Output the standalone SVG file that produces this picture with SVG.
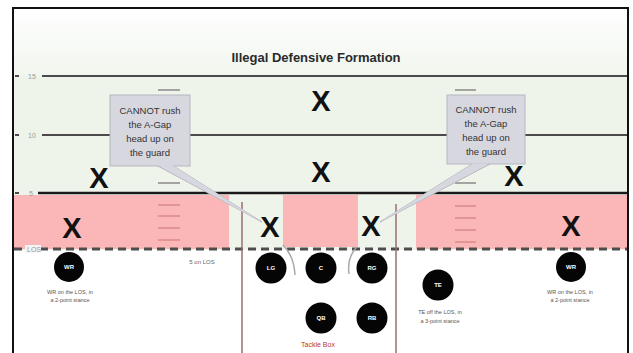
<svg xmlns="http://www.w3.org/2000/svg" width="633" height="353" viewBox="0 0 633 353">
<defs>
<linearGradient id="topbg" x1="0" y1="0" x2="0" y2="1">
<stop offset="0" stop-color="#ffffff"/>
<stop offset="1" stop-color="#f1f6ee"/>
</linearGradient>
<style>
.yl{stroke:#4a4a4a;stroke-width:2}
.lbl{font-family:"Liberation Sans",Arial,sans-serif;font-size:7px;fill:#9a9a9a}
.x{font-family:"Liberation Sans",Arial,sans-serif;font-size:29px;font-weight:bold;fill:#111;text-anchor:middle}
.pink{fill:#fbb7b7}
.gd{stroke:#8a8a8a;stroke-width:1.5}
.pd{stroke:#d98a8a;stroke-width:1.5}
.call{fill:#d7d8df;stroke:#b4b6c0;stroke-width:1}
.ct{font-family:"Liberation Sans",Arial,sans-serif;font-size:9.5px;fill:#333;text-anchor:middle}
.pl{fill:#050505}
.pt{font-family:"Liberation Sans",Arial,sans-serif;font-size:6px;font-weight:bold;fill:#fff;text-anchor:middle}
.note{font-family:"Liberation Sans",Arial,sans-serif;font-size:5.5px;fill:#555;text-anchor:middle}
.tb{stroke:#9b6e6e;stroke-width:1.5}
.arc{fill:none;stroke:#a8a8a8;stroke-width:1.5}
</style>
</defs>
<rect x="0" y="0" width="633" height="353" fill="#fff"/>
<rect x="13" y="8" width="615" height="67" fill="url(#topbg)"/>
<rect x="13" y="75" width="615" height="175" fill="#eef4ea"/>
<rect class="pink" x="14" y="195" width="215" height="54"/>
<rect class="pink" x="283" y="195" width="75" height="52"/>
<rect class="pink" x="416" y="195" width="212" height="54"/>
<text x="316" y="62" font-family="'Liberation Sans',Arial,sans-serif" font-size="13" font-weight="bold" fill="#2a2a2a" text-anchor="middle">Illegal Defensive Formation</text>
<g id="yard-lines">
<line x1="15" y1="76" x2="19" y2="76" class="yl" stroke-width="1"/>
<text class="lbl" x="28" y="79">15</text>
<line class="yl" x1="42" y1="76" x2="628" y2="76"/>
<line x1="15" y1="135" x2="19" y2="135" class="yl" stroke-width="1"/>
<text class="lbl" x="28" y="138">10</text>
<line class="yl" x1="42" y1="135" x2="628" y2="135"/>
<line x1="15" y1="193" x2="19" y2="193" class="yl" stroke-width="1"/>
<text class="lbl" x="29" y="196">5</text>
<line x1="38" y1="193" x2="628" y2="193" stroke="#1a1a1a" stroke-width="2.5"/>
<line x1="14" y1="249" x2="628" y2="249" stroke="#4d4d4d" stroke-width="3" stroke-dasharray="8,5"/>
<rect x="25" y="245" width="16" height="8" fill="#f4f4f4"/>
<text class="lbl" x="27" y="251.5" font-size="6">LOS</text>
</g>
<g id="hash-left">
<line class="gd" x1="158" y1="90" x2="180" y2="90"/>
<line class="gd" x1="158" y1="183" x2="180" y2="183"/>
<line class="pd" x1="158" y1="205" x2="180" y2="205"/>
<line class="pd" x1="158" y1="216" x2="180" y2="216"/>
<line class="pd" x1="158" y1="228" x2="180" y2="228"/>
<line class="pd" x1="158" y1="240" x2="180" y2="240"/>
</g>
<g id="hash-right">
<line class="gd" x1="455" y1="90" x2="476" y2="90"/>
<line class="gd" x1="455" y1="183" x2="476" y2="183"/>
<line class="pd" x1="455" y1="206" x2="476" y2="206"/>
<line class="pd" x1="455" y1="218" x2="476" y2="218"/>
<line class="pd" x1="455" y1="230" x2="476" y2="230"/>
<line class="pd" x1="455" y1="242" x2="476" y2="242"/>
</g>
<g id="tackle-box">
<line class="tb" x1="242" y1="202" x2="242" y2="353"/>
<line class="tb" x1="396" y1="204" x2="396" y2="353"/>
<text x="318" y="347" font-family="'Liberation Sans',Arial,sans-serif" font-size="7" fill="#c0392b" text-anchor="middle">Tackle Box</text>
</g>
<g id="defenders">
<text class="x" x="321" y="111">X</text>
<text class="x" x="321" y="182">X</text>
<text class="x" x="99" y="188">X</text>
<text class="x" x="514" y="186">X</text>
<text class="x" x="72" y="238">X</text>
<text class="x" x="270" y="237">X</text>
<text class="x" x="371" y="236">X</text>
<text class="x" x="571" y="236">X</text>
</g>
<g id="connectors">
<path class="arc" d="M283 245 Q294 256 295 275"/>
<path class="arc" d="M356 248 Q347 258 349 274"/>
</g>
<g id="callout-left">
<polygon class="call" points="156,165 172,165 262,222"/>
<rect class="call" x="110" y="95" width="80" height="71"/>
<polygon points="157,164.5 171,164.5 262,222" fill="#d7d8df"/>
<text class="ct" x="150" y="114">CANNOT rush</text>
<text class="ct" x="150" y="128">the A-Gap</text>
<text class="ct" x="150" y="142">head up on</text>
<text class="ct" x="150" y="156">the guard</text>
</g>
<g id="callout-right">
<polygon class="call" points="472,164 490,164 380,222"/>
<rect class="call" x="447" y="95" width="78" height="69"/>
<polygon points="473,163.5 489,163.5 380,222" fill="#d7d8df"/>
<text class="ct" x="486" y="113">CANNOT rush</text>
<text class="ct" x="486" y="127">the A-Gap</text>
<text class="ct" x="486" y="141">head up on</text>
<text class="ct" x="486" y="155">the guard</text>
</g>
<g id="wr-left">
<circle class="pl" cx="69" cy="267" r="15"/>
<text class="pt" x="69" y="269">WR</text>
<text class="note" x="70" y="294">WR on the LOS, in</text>
<text class="note" x="70" y="302">a 2-point stance</text>
</g>
<text x="202" y="264" font-family="'Liberation Sans',Arial,sans-serif" font-size="6" fill="#666" text-anchor="middle">5 on LOS</text>
<g id="lg"><circle class="pl" cx="271" cy="268" r="15.5"/><text class="pt" x="271" y="270">LG</text></g>
<g id="c"><circle class="pl" cx="321" cy="268" r="15.5"/><text class="pt" x="321" y="270">C</text></g>
<g id="rg"><circle class="pl" cx="372" cy="268" r="15.5"/><text class="pt" x="372" y="270">RG</text></g>
<g id="qb"><circle class="pl" cx="321" cy="318" r="15.5"/><text class="pt" x="321" y="320">QB</text></g>
<g id="rb"><circle class="pl" cx="372" cy="318" r="15.5"/><text class="pt" x="372" y="320">RB</text></g>
<g id="te">
<circle class="pl" cx="438" cy="285" r="15.5"/>
<text class="pt" x="438" y="287">TE</text>
<text class="note" x="440" y="314">TE off the LOS, in</text>
<text class="note" x="440" y="323">a 3-point stance</text>
</g>
<g id="wr-right">
<circle class="pl" cx="571" cy="267" r="15"/>
<text class="pt" x="571" y="269">WR</text>
<text class="note" x="570" y="294">WR on the LOS, in</text>
<text class="note" x="570" y="302">a 2-point stance</text>
</g>
<rect x="13" y="8" width="615" height="350" fill="none" stroke="#111" stroke-width="2"/>
</svg>
